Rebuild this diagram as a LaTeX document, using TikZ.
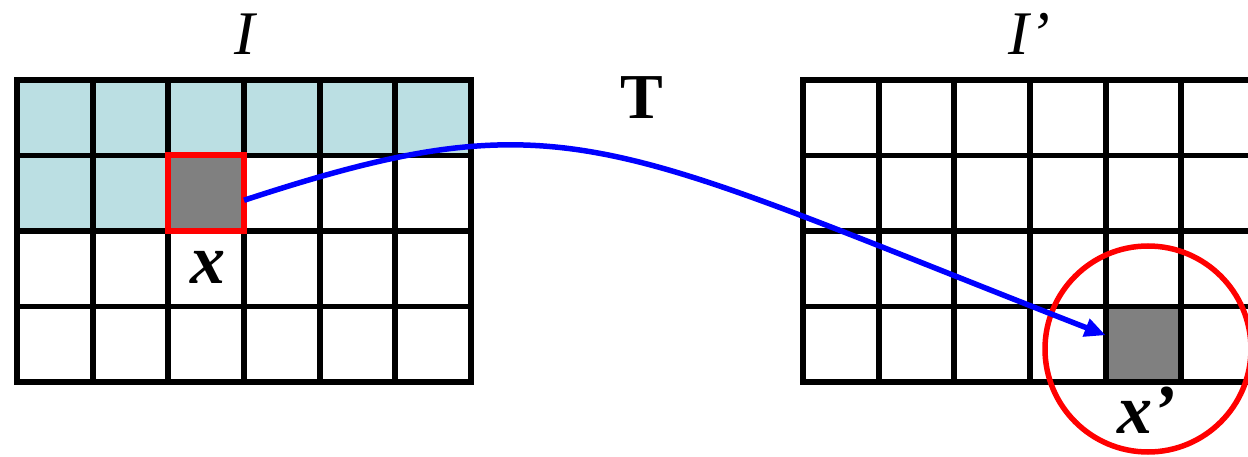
\documentclass[tikz,border=0pt]{standalone}
\usepackage{fontspec}
\setmainfont{Liberation Serif}
\usetikzlibrary{arrows.meta}
\definecolor{cellblue}{HTML}{BBDFE3}
\definecolor{cellgray}{HTML}{808080}
\begin{document}
\begin{tikzpicture}[x=1pt,y=-1pt,
  gridline/.style={line width=5.8pt, line cap=rect, black},
  graycell/.style={fill=cellgray, draw=none, minimum width=75.67pt, minimum height=75.5pt, inner sep=0pt, outer sep=0pt},
  lbl/.style={inner sep=0pt, font=\fontsize{62}{62}\selectfont},
  redmark/.style={draw=red, line width=5.5pt},
  maparrow/.style={draw=blue, line width=5.5pt, -{Triangle[length=21pt,width=18pt]}}]
\useasboundingbox (0,0) rectangle (1248,457);
\clip (0,0) rectangle (1248,457);
\def\cw{75.67}\def\ch{75.5}
% light blue cells
\fill[cellblue] (17,80) rectangle (471,155.5);
\fill[cellblue] (17,155.5) rectangle (168.3,231);
% gray cells
\node[graycell] (xcell) at (206.2,193.25) {};
\node[graycell] (xpcell) at (1143.5,344.25) {};
% left grid
\foreach \i in {0,...,6} \draw[gridline] ({17+\i*\cw},80) -- ({17+\i*\cw},382);
\foreach \j in {0,...,4} \draw[gridline] (17,{80+\j*\ch}) -- (471,{80+\j*\ch});
% right grid
\foreach \i in {0,...,6} \draw[gridline] ({803+\i*\cw},80) -- ({803+\i*\cw},382);
\foreach \j in {0,...,4} \draw[gridline] (803,{80+\j*\ch}) -- (1257,{80+\j*\ch});
% red square
\draw[redmark, line width=6pt] (xcell.north west) rectangle (xcell.south east);
% red circle
\draw[redmark] (1148,349) circle[radius=103];
% arrow
\draw[maparrow] ([yshift=-7pt]xcell.east) .. controls +(320,-105) and +(-500,-195) .. ([yshift=9pt]xpcell.west);
% labels
\node[lbl, font=\fontsize{62}{62}\selectfont\itshape] (Ilabel) at (245,34) {I};
\node[lbl, font=\fontsize{62}{62}\selectfont\itshape] (Iplabel) at (1029,34) {I’};
\node[lbl, font=\fontsize{64}{64}\selectfont\bfseries] (Tlabel) at (642,98) {T};
\node[lbl, font=\fontsize{70}{70}\selectfont\bfseries\itshape] (xlabel) at (207.5,267) {x};
\node[lbl, font=\fontsize{70}{70}\selectfont\bfseries\itshape] (xplabel) at (1147,410) {x’};
\end{tikzpicture}
\end{document}
